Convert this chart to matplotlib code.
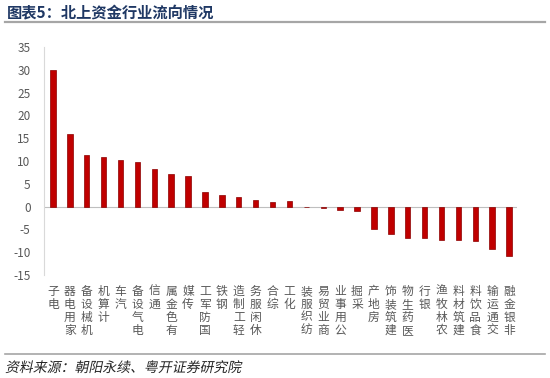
import matplotlib
matplotlib.use("Agg")
import matplotlib.pyplot as plt
from matplotlib.lines import Line2D
from matplotlib.patches import PathPatch
from matplotlib.textpath import TextPath
from matplotlib.font_manager import FontProperties
from matplotlib.transforms import Affine2D

plt.rcParams["font.family"] = ["Noto Sans CJK SC", "DejaVu Sans"]

industries = ["电子", "家用电器", "机械设备", "计算机", "汽车", "电气设备", "通信",
              "有色金属", "传媒", "国防军工", "钢铁", "轻工制造", "休闲服务", "综合",
              "化工", "纺织服装", "商业贸易", "公用事业", "采掘", "房地产", "建筑装饰",
              "医药生物", "银行", "农林牧渔", "建筑材料", "食品饮料", "交通运输", "非银金融"]
flows = [30.0, 16.0, 11.4, 10.9, 10.3, 9.7, 8.2, 7.25, 6.75, 3.2, 2.6, 2.2, 1.5, 1.1,
         1.2, 0.0, -0.2, -0.8, -1.0, -4.9, -6.1, -6.8, -6.9, -7.25, -7.25, -7.5, -9.4, -10.8]
yticks = [-15, -10, -5, 0, 5, 10, 15, 20, 25, 30, 35]

title = "图表5：北上资金行业流向情况"
source = "资料来源：朝阳永续、粤开证券研究院"

fig = plt.figure(figsize=(5.5, 3.78), dpi=100)
ax = fig.add_axes([0.0809, 0.2725, 0.860, 0.603])

x = range(len(industries))
ax.bar(x, flows, width=0.32, color="#C00000", edgecolor="#8B0000", linewidth=0.5, zorder=3)
ax.axhline(0, color="#BFBFBF", lw=0.8, zorder=2)

ax.set_xlim(-0.5, len(industries) - 0.5)
ax.set_ylim(-15, 35)
ax.set_yticks(yticks)
ax.set_yticklabels([str(v) for v in yticks], color="#595959", fontsize=8.5)
ax.tick_params(axis="y", length=0, pad=10)

# stacked upright characters, last character on top
stacked = ["\n".join(reversed(name)) for name in industries]
ax.set_xticks(list(x))
ax.set_xticklabels(stacked, fontsize=8.5, color="#595959", linespacing=1.0, va="top")
ax.tick_params(axis="x", length=0, pad=7)

for side in ["top", "right", "bottom"]:
    ax.spines[side].set_visible(False)
ax.spines["left"].set_color("#D9D9D9")
ax.spines["left"].set_linewidth(0.8)

fig.text(0.012, 0.965, title, fontsize=11, fontweight="bold", color="#1F3864",
         va="center", ha="left")
fig.add_artist(Line2D([0.009, 0.99], [0.941, 0.941], transform=fig.transFigure,
                      color="#A6A6A6", lw=1.6))
fig.add_artist(Line2D([0.009, 0.99], [0.063, 0.063], transform=fig.transFigure,
                      color="#A6A6A6", lw=1.2))

# italic look for the source line via skewed text path
fp = FontProperties(family="Noto Sans CJK SC", size=10)
tp = TextPath((0, 0), source, prop=fp)
scale = 100 / 72
tr = Affine2D().skew_deg(12, 0).scale(scale).translate(5, 378 - 372)
fig.add_artist(PathPatch(tr.transform_path(tp), facecolor="#262626", edgecolor="none",
                         transform=None))

fig.savefig("out.png", dpi=100)
